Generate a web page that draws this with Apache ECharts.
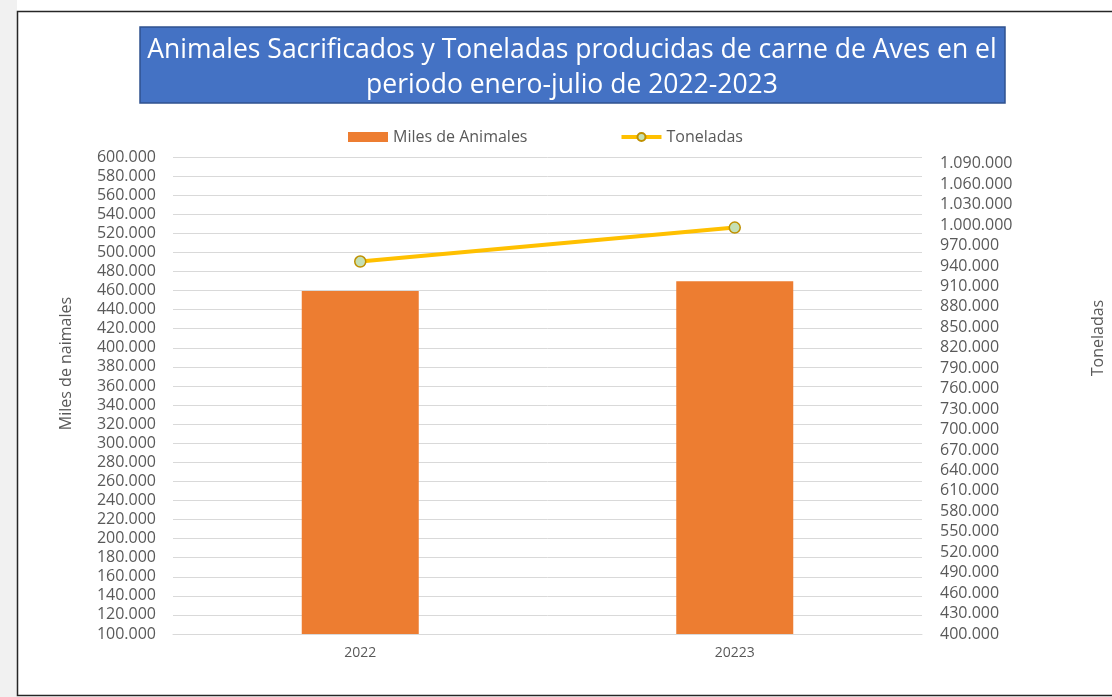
<!DOCTYPE html>
<html>
<head>
<meta charset="utf-8">
<script src="https://cdn.jsdelivr.net/npm/echarts@6/dist/echarts.min.js"></script>
<style>
  html, body { margin: 0; padding: 0; background: #ffffff; }
  #chart { width: 1112px; height: 697px; }
</style>
</head>
<body>
<div id="chart"></div>
<script>
// data
const categories = ['2022', '20223'];
const milesAnimales = [459500, 469700];
const toneladas = [946600, 996400];

const titleText = 'Animales Sacrificados y Toneladas producidas de carne de Aves en el\nperiodo enero-julio de 2022-2023';
const FONT = '"Open Sans", "Noto Sans", sans-serif';
const LABEL = '#595959';

// 600000 -> "600.000"
const fmt = (v) => String(Math.round(v)).replace(/\B(?=(\d{3})+(?!\d))/g, '.');

const chart = echarts.init(document.getElementById('chart'));

const option = {
    backgroundColor: '#ffffff',
    textStyle: { fontFamily: FONT },
    graphic: [
        // light grey strip left of the frame
        { type: 'rect', z: -10, shape: { x: 0, y: 0, width: 17, height: 697 }, style: { fill: '#f1f1f1' } },
        // frame around the chart
        { type: 'rect', z: 10, shape: { x: 17.5, y: 11.5, width: 1110, height: 684 }, style: { fill: 'none', stroke: '#262626', lineWidth: 1.5 } },
        // blue title box
        { type: 'rect', z: 0, shape: { x: 140, y: 27, width: 865, height: 76 }, style: { fill: '#4472C4', stroke: '#2F528F', lineWidth: 1.5 } }
    ],
    title: {
        text: titleText,
        left: 567,
        top: 28,
        textAlign: 'center',
        textStyle: { color: '#ffffff', fontSize: 26.5, fontWeight: 'normal', lineHeight: 35, fontFamily: FONT },
        z: 5
    },
    legend: {
        left: 343,
        top: 124,
        itemWidth: 40,
        itemHeight: 10,
        itemGap: 92,
        textStyle: { color: LABEL, fontSize: 16, fontFamily: FONT },
        data: [
            { name: 'Miles de Animales', icon: 'rect' },
            { name: 'Toneladas', lineStyle: { width: 4 } }
        ]
    },
    grid: { left: 173, right: 190, top: 157, bottom: 63, outerBoundsMode: 'none' },
    xAxis: {
        type: 'category',
        data: categories,
        axisTick: { show: false },
        axisLine: { lineStyle: { color: '#d9d9d9', width: 1 } },
        axisLabel: { color: LABEL, fontSize: 14, margin: 12, fontFamily: FONT }
    },
    yAxis: [
        {
            type: 'value',
            min: 100000,
            max: 600000,
            interval: 20000,
            name: 'Miles de naimales',
            nameLocation: 'middle',
            nameGap: 99,
            nameRotate: 90,
            nameTextStyle: { color: LABEL, fontSize: 16, fontFamily: FONT, padding: [0, 0, 0, 64] },
            axisLine: { show: false },
            axisTick: { show: false },
            axisLabel: { color: LABEL, fontSize: 16, margin: 17, formatter: fmt, fontFamily: FONT },
            splitLine: { lineStyle: { color: '#d9d9d9', width: 1 } }
        },
        {
            type: 'value',
            min: 400000,
            max: 1100000,
            interval: 30000,
            name: 'Toneladas',
            nameLocation: 'middle',
            nameGap: 168,
            nameRotate: 90,
            nameTextStyle: { color: LABEL, fontSize: 16, fontFamily: FONT, padding: [0, 0, 0, 115] },
            axisLine: { show: false },
            axisTick: { show: false },
            axisLabel: { color: LABEL, fontSize: 16, margin: 18, formatter: fmt, showMaxLabel: false, fontFamily: FONT },
            splitLine: { show: false }
        }
    ],
    series: [
        {
            name: 'Miles de Animales',
            type: 'bar',
            yAxisIndex: 0,
            data: milesAnimales,
            barWidth: 117,
            itemStyle: { color: '#ED7D31' }
        },
        {
            name: 'Toneladas',
            type: 'line',
            yAxisIndex: 1,
            data: toneladas,
            symbol: 'circle',
            symbolSize: 11,
            lineStyle: { color: '#FFC000', width: 4 },
            itemStyle: { color: '#C5E0B4', borderColor: '#BF9000', borderWidth: 1.5 },
            z: 5
        }
    ]
};

chart.setOption(option);
</script>
</body>
</html>
